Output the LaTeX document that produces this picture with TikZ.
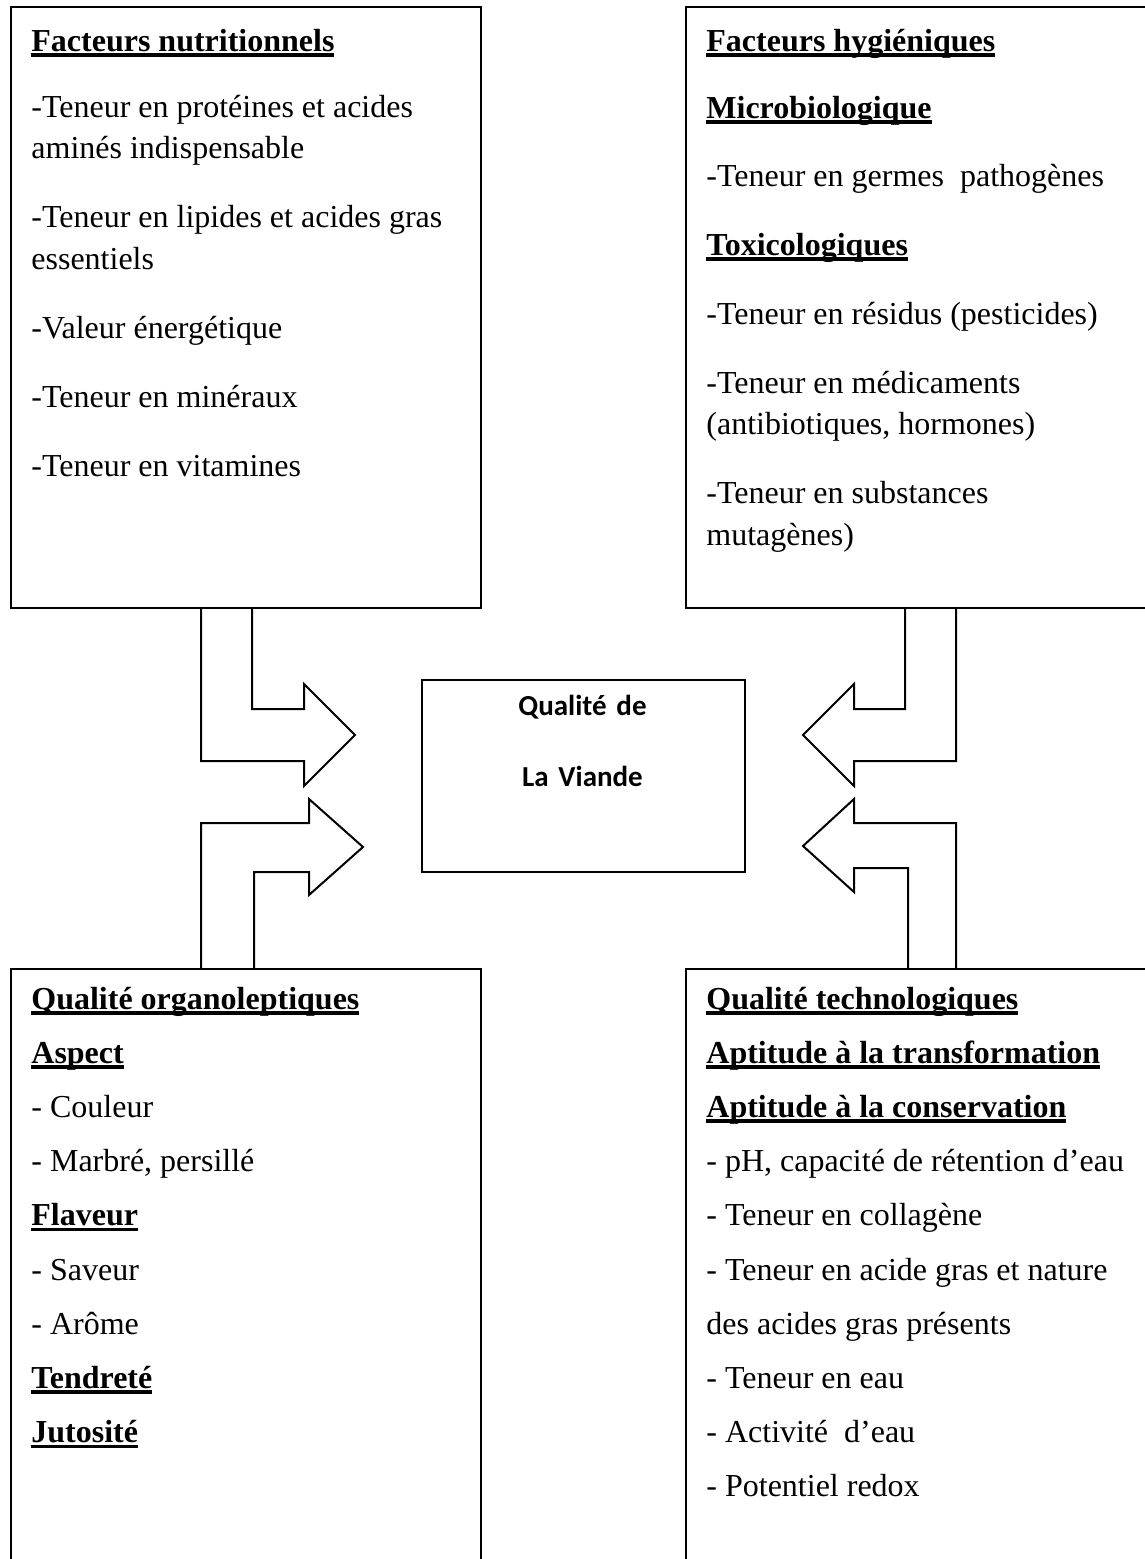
\documentclass[tikz,border=0pt]{standalone}
\usepackage{fontspec}
\setmainfont{Liberation Serif}
\newfontfamily\calibri{Carlito}
\usepackage{tikz}

\newcommand{\souligne}[1]{\leavevmode\setbox0\hbox{\bfseries #1}\rlap{\rule[-2.8pt]{\wd0}{1.8pt}}\box0}

\begin{document}
\begin{tikzpicture}[x=0.5pt,y=-0.5pt]
\tikzstyle{cadre}=[draw,line width=1pt,inner sep=0pt,anchor=north west]
\tikzstyle{texte}=[anchor=base west,inner sep=0pt,text width=260pt,align=flush left,
  font=\fontsize{16}{20.75}\selectfont\setlength{\parskip}{13.75pt}]
\tikzstyle{texteb}=[anchor=base west,inner sep=0pt,text width=260pt,align=flush left,
  font=\fontsize{16}{27.1}\selectfont\setlength{\parskip}{0pt}]
\tikzstyle{fleche}=[draw,line width=1pt,line join=miter]

\useasboundingbox (0,0) rectangle (1145,1559);

% les cadres
\node[cadre,minimum width=235pt,minimum height=300.5pt](nut) at (10,6){};
\node[cadre,minimum width=240pt,minimum height=300.5pt](hyg) at (685,6){};
\node[cadre,minimum width=235pt,minimum height=320pt](orga) at (10,968){};
\node[cadre,minimum width=240pt,minimum height=320pt](techno) at (685,968){};
\node[cadre,minimum width=161.5pt,minimum height=96pt](viande) at (421,679){};

\node[texte](nutT) at (31,51){\souligne{Facteurs nutritionnels}\par\vspace{-1.5pt}
-Teneur en protéines et acides\newline aminés indispensable\par
-Teneur en lipides et acides gras\newline essentiels\par
-Valeur énergétique\par
-Teneur en minéraux\par
-Teneur en vitamines};

\node[texte](hygT) at (706,51){\souligne{Facteurs hygiéniques}\par\vspace{-1pt}
\souligne{Microbiologique}\par\vspace{-0.5pt}
-Teneur en germes\ \ pathogènes\par
\souligne{Toxicologiques}\par
-Teneur en résidus (pesticides)\par
-Teneur en médicaments\newline (antibiotiques, hormones)\par
-Teneur en substances\newline mutagènes)};

\node[texteb](orgaT) at (31,1009){\souligne{Qualité organoleptiques}\par
\souligne{Aspect}\par
- Couleur\par
- Marbré, persillé\par
\souligne{Flaveur}\par
- Saveur\par
- Arôme\par
\souligne{Tendreté}\par
\souligne{Jutosité}};

\node[texteb](technoT) at (706,1009){\souligne{Qualité technologiques}\par
\souligne{Aptitude à la transformation}\par
\souligne{Aptitude à la conservation}\par
- pH, capacité de rétention d’eau\par
- Teneur en collagène\par
- Teneur en acide gras et nature\par
des acides gras présents\par
- Teneur en eau\par
- Activité\ \ d’eau\par
- Potentiel redox};

\node[anchor=base,inner sep=0pt,text width=150pt,align=center,
  font=\calibri\bfseries\fontsize{14.5}{35.5}\selectfont](viandeT) at (582.5,715){Qualité de\\La Viande};

% les fleches
\coordinate (pNut) at (355,735);
\coordinate (pOrga) at (363,847);
\coordinate (pHyg) at (803,735);
\coordinate (pTechno) at (803,846);

\draw[fleche] (201,0 |- nut.south) -- (201,761) -- (304,761) -- (304,786) -- (pNut)
  -- (304,684) -- (304,709) -- (252,709) -- (252,0 |- nut.south);
\draw[fleche] (201,0 |- orga.north) -- (201,823) -- (309,823) -- (309,799) -- (pOrga)
  -- (309,895) -- (309,872) -- (254,872) -- (254,0 |- orga.north);
\draw[fleche] (956,0 |- hyg.south) -- (956,761) -- (854,761) -- (854,786) -- (pHyg)
  -- (854,684) -- (854,709) -- (905,709) -- (905,0 |- hyg.south);
\draw[fleche] (956,0 |- techno.north) -- (956,823) -- (854,823) -- (854,799) -- (pTechno)
  -- (854,892) -- (854,868) -- (908,868) -- (908,0 |- techno.north);
\end{tikzpicture}
\end{document}
